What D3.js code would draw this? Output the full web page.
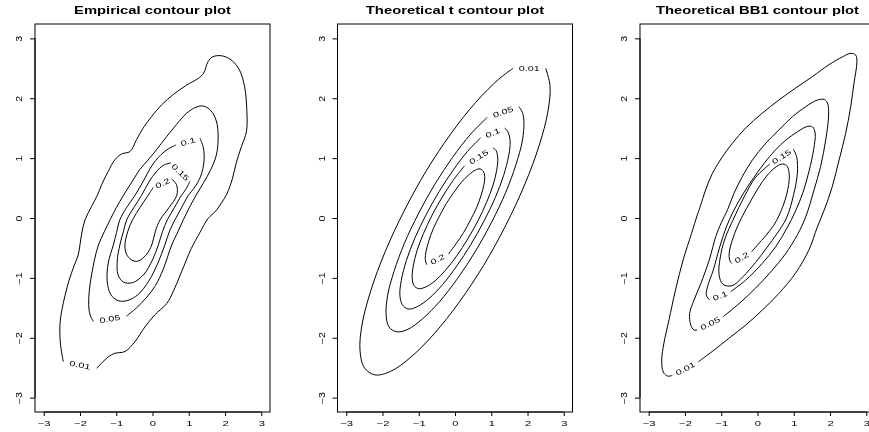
<!DOCTYPE html>
<html>
<head>
<meta charset="utf-8">
<script src="https://cdn.jsdelivr.net/npm/d3@7"></script>
<style>
  body { margin: 0; background: #fff; }
  svg { filter: grayscale(100%); }
  text { font-family: "Liberation Sans", Arial, Helvetica, sans-serif; fill: #000; }
</style>
</head>
<body>
<svg id="chart" width="869" height="432"></svg>
<script>
const titles = ['Empirical contour plot', 'Theoretical t contour plot', 'Theoretical BB1 contour plot'];
const levels = ['0.01', '0.05', '0.1', '0.15', '0.2'];
const xTicks = [-3, -2, -1, 0, 1, 2, 3];
const yTicks = [-3, -2, -1, 0, 1, 2, 3];

// Contour lines, [x, y]. Each runs from one end of its label gap to the other.
// Empirical
const emp001 = [[-1.54,-2.51],[-1.22,-2.32],[-1.04,-2.26],[-0.76,-2.23],[-0.49,-2.07],[-0.21,-1.82],[0.06,-1.62],[0.39,-1.43],[0.57,-1.23],[0.80,-0.90],[1.07,-0.51],[1.30,-0.25],[1.53,-0.01],[1.75,0.12],[1.90,0.25],[2.05,0.40],[2.20,0.65],[2.31,0.92],[2.45,1.19],[2.59,1.44],[2.60,1.81],[2.54,2.19],[2.40,2.47],[2.17,2.64],[1.90,2.71],[1.65,2.69],[1.53,2.61],[1.41,2.42],[1.26,2.33],[0.94,2.22],[0.57,2.06],[0.25,1.89],[-0.03,1.69],[-0.26,1.50],[-0.44,1.31],[-0.62,1.11],[-0.85,1.07],[-1.04,0.97],[-1.22,0.78],[-1.40,0.56],[-1.52,0.38],[-1.70,0.17],[-1.86,-0.03],[-1.95,-0.25],[-2.00,-0.45],[-2.05,-0.62],[-2.17,-0.81],[-2.30,-1.04],[-2.41,-1.29],[-2.50,-1.54],[-2.55,-1.76],[-2.54,-2.09],[-2.46,-2.40]];
const emp005 = [[-0.72,-1.64],[-0.44,-1.50],[-0.17,-1.33],[0.08,-1.13],[0.30,-0.85],[0.53,-0.45],[0.70,-0.23],[0.85,-0.03],[1.02,0.18],[1.20,0.38],[1.40,0.58],[1.60,0.80],[1.76,1.05],[1.81,1.35],[1.76,1.62],[1.60,1.80],[1.40,1.87],[1.20,1.85],[0.94,1.75],[0.66,1.56],[0.39,1.36],[0.11,1.14],[-0.12,0.97],[-0.35,0.81],[-0.55,0.62],[-0.80,0.38],[-1.00,0.17],[-1.17,-0.03],[-1.33,-0.23],[-1.49,-0.45],[-1.60,-0.70],[-1.68,-0.95],[-1.74,-1.20],[-1.76,-1.45],[-1.72,-1.62],[-1.63,-1.73]];
const emp010 = [[1.31,1.33],[1.40,1.18],[1.42,0.95],[1.33,0.70],[1.15,0.50],[0.99,0.38],[0.80,0.17],[0.62,-0.03],[0.47,-0.22],[0.34,-0.45],[0.15,-0.75],[-0.10,-1.05],[-0.40,-1.28],[-0.70,-1.38],[-0.95,-1.38],[-1.15,-1.28],[-1.25,-1.05],[-1.22,-0.75],[-1.08,-0.45],[-0.99,-0.24],[-0.90,-0.03],[-0.72,0.17],[-0.48,0.38],[-0.25,0.62],[-0.02,0.87],[0.22,1.05],[0.45,1.16],[0.65,1.22]];
const emp015 = [[1.03,0.61],[0.92,0.48],[0.80,0.38],[0.60,0.17],[0.41,-0.03],[0.28,-0.22],[0.16,-0.45],[0.00,-0.70],[-0.25,-0.95],[-0.55,-1.08],[-0.80,-1.07],[-0.95,-0.95],[-0.97,-0.70],[-0.90,-0.45],[-0.80,-0.22],[-0.71,-0.03],[-0.52,0.17],[-0.30,0.38],[-0.10,0.60],[0.10,0.77],[0.30,0.88],[0.51,0.92]];
const emp020 = [[0.53,0.65],[0.66,0.56],[0.67,0.38],[0.45,0.17],[0.21,-0.03],[0.08,-0.22],[-0.02,-0.45],[-0.18,-0.62],[-0.40,-0.72],[-0.58,-0.70],[-0.72,-0.60],[-0.76,-0.45],[-0.68,-0.22],[-0.55,-0.03],[-0.35,0.17],[-0.12,0.38],[0.02,0.51]];

// Theoretical t
const t001 = [[2.50,2.50],[2.62,2.21],[2.56,1.77],[2.32,1.21],[1.93,0.57],[1.41,-0.11],[0.79,-0.79],[0.11,-1.41],[-0.57,-1.93],[-1.21,-2.32],[-1.77,-2.56],[-2.21,-2.62],[-2.50,-2.50],[-2.62,-2.21],[-2.56,-1.77],[-2.32,-1.21],[-1.93,-0.57],[-1.41,0.11],[-0.79,0.79],[-0.11,1.41],[0.57,1.93],[1.21,2.32],[1.60,2.50]];
const t005 = [[1.76,1.86],[1.86,1.76],[1.90,1.61],[1.86,1.30],[1.68,0.89],[1.40,0.43],[1.01,-0.07],[0.56,-0.56],[0.07,-1.01],[-0.43,-1.40],[-0.89,-1.68],[-1.30,-1.86],[-1.61,-1.90],[-1.82,-1.82],[-1.90,-1.61],[-1.86,-1.30],[-1.68,-0.89],[-1.40,-0.43],[-1.01,0.07],[-0.56,0.56],[-0.07,1.01],[0.43,1.40],[0.89,1.68]];
const t010 = [[1.37,1.50],[1.45,1.45],[1.52,1.29],[1.48,1.04],[1.34,0.71],[1.11,0.34],[0.80,-0.05],[0.44,-0.44],[0.05,-0.80],[-0.34,-1.11],[-0.71,-1.34],[-1.04,-1.48],[-1.29,-1.52],[-1.45,-1.45],[-1.52,-1.29],[-1.48,-1.04],[-1.34,-0.71],[-1.11,-0.34],[-0.80,0.05],[-0.44,0.44],[-0.05,0.80],[0.34,1.11],[0.71,1.34]];
const t015 = [[1.05,1.17],[1.13,1.13],[1.18,1.00],[1.15,0.80],[1.05,0.55],[0.87,0.26],[0.63,-0.05],[0.35,-0.35],[0.05,-0.63],[-0.26,-0.87],[-0.55,-1.05],[-0.80,-1.15],[-1.00,-1.18],[-1.13,-1.13],[-1.18,-1.00],[-1.15,-0.80],[-1.05,-0.55],[-0.87,-0.26],[-0.63,0.05],[-0.35,0.35],[-0.05,0.63],[0.26,0.87]];
const t020 = [[-0.18,-0.60],[0.03,-0.43],[0.24,-0.24],[0.43,-0.03],[0.60,0.18],[0.72,0.38],[0.80,0.56],[0.82,0.69],[0.78,0.78],[0.69,0.82],[0.56,0.80],[0.38,0.72],[0.18,0.60],[-0.03,0.43],[-0.24,0.24],[-0.43,0.03],[-0.60,-0.18],[-0.72,-0.38],[-0.80,-0.56],[-0.82,-0.69],[-0.78,-0.78]];

// Theoretical BB1
const bb001 = [[-1.63,-2.40],[-1.25,-2.23],[-0.79,-2.01],[-0.33,-1.79],[0.13,-1.54],[0.59,-1.26],[1.05,-0.92],[1.42,-0.53],[1.65,-0.15],[1.85,0.15],[2.06,0.52],[2.25,0.97],[2.43,1.41],[2.57,1.86],[2.66,2.25],[2.74,2.60],[2.71,2.72],[2.57,2.75],[2.34,2.69],[1.97,2.56],[1.51,2.36],[1.05,2.17],[0.59,1.97],[0.13,1.75],[-0.33,1.50],[-0.69,1.25],[-0.97,1.02],[-1.24,0.75],[-1.43,0.47],[-1.58,0.19],[-1.66,0.05],[-1.82,-0.26],[-2.05,-0.70],[-2.26,-1.20],[-2.44,-1.70],[-2.58,-2.09],[-2.64,-2.37],[-2.60,-2.57],[-2.48,-2.64],[-2.35,-2.63]];
const bb005 = [[-0.95,-1.65],[-0.51,-1.43],[-0.05,-1.17],[0.41,-0.87],[0.77,-0.60],[1.10,-0.28],[1.33,0.02],[1.56,0.47],[1.74,0.86],[1.88,1.30],[1.96,1.72],[1.93,1.92],[1.84,1.98],[1.65,1.97],[1.33,1.86],[0.96,1.69],[0.59,1.47],[0.23,1.25],[-0.14,0.97],[-0.42,0.69],[-0.65,0.41],[-0.83,0.13],[-1.00,-0.08],[-1.15,-0.31],[-1.33,-0.70],[-1.56,-1.09],[-1.75,-1.37],[-1.87,-1.59],[-1.84,-1.79],[-1.75,-1.87],[-1.66,-1.87]];
const bb010 = [[-0.74,-1.23],[-0.33,-1.04],[0.13,-0.76],[0.50,-0.48],[0.82,-0.16],[1.05,0.12],[1.25,0.42],[1.42,0.78],[1.55,1.15],[1.59,1.42],[1.52,1.52],[1.38,1.53],[1.10,1.44],[0.78,1.30],[0.50,1.14],[0.18,0.91],[-0.12,0.66],[-0.40,0.40],[-0.65,0.13],[-0.86,-0.15],[-1.05,-0.50],[-1.22,-0.87],[-1.38,-1.15],[-1.41,-1.29],[-1.32,-1.37]];
const bb015 = [[0.99,1.15],[1.08,1.02],[1.10,0.75],[1.00,0.40],[0.80,0.00],[0.55,-0.25],[0.25,-0.50],[-0.05,-0.74],[-0.40,-0.98],[-0.70,-1.13],[-0.95,-1.11],[-1.06,-0.95],[-1.03,-0.67],[-0.90,-0.35],[-0.65,0.00],[-0.37,0.35],[-0.05,0.68],[0.34,0.90]];
const bb020 = [[-0.16,-0.56],[0.22,-0.30],[0.45,-0.12],[0.60,0.05],[0.76,0.30],[0.86,0.56],[0.87,0.76],[0.80,0.88],[0.66,0.90],[0.48,0.84],[0.25,0.70],[0.02,0.50],[-0.20,0.27],[-0.40,0.05],[-0.56,-0.15],[-0.70,-0.38],[-0.78,-0.58],[-0.77,-0.70],[-0.71,-0.76]];

const panels = [
  [emp001, emp005, emp010, emp015, emp020],
  [t001, t005, t010, t015, t020],
  [bb001, bb005, bb010, bb015, bb020],
];

const MARGIN = { LEFT: 35, TOP: 24 };
const PANEL_W = 235;
const PANEL_H = 388;
const PANEL_STEP = 302.5;
const DOMAIN = [-3.24, 3.24];

const svg = d3.select('#chart');

// Text in the picture is stretched along its baseline.
function place(sel, x, y, angle, sx) {
  sel.attr('transform', `translate(${x},${y}) rotate(${angle}) scale(${sx},1)`);
}

panels.forEach((contours, i) => {
  const left = MARGIN.LEFT + i * PANEL_STEP;
  const xScale = d3.scaleLinear().domain(DOMAIN).range([left, left + PANEL_W]);
  const yScale = d3.scaleLinear().domain(DOMAIN).range([MARGIN.TOP + PANEL_H, MARGIN.TOP]);
  const g = svg.append('g').attr('class', 'panel');

  const line = d3.line()
    .x(d => xScale(d[0]))
    .y(d => yScale(d[1]))
    .curve(d3.curveCatmullRom.alpha(0.5));

  contours.forEach((pts, k) => {
    g.append('path')
      .attr('d', line(pts))
      .attr('fill', 'none')
      .attr('stroke', '#000')
      .attr('stroke-width', 1);

    // Label sits in the gap between the two ends of the line.
    const a = pts[0];
    const b = pts[pts.length - 1];
    const ax = xScale(a[0]), ay = yScale(a[1]);
    const bx = xScale(b[0]), by = yScale(b[1]);
    let ang = Math.atan2(by - ay, bx - ax) * 180 / Math.PI;
    if (ang > 90) ang -= 180;
    if (ang < -90) ang += 180;
    g.append('text')
      .attr('text-anchor', 'middle')
      .attr('dy', '0.35em')
      .attr('font-size', 7.5)
      .call(place, (ax + bx) / 2, (ay + by) / 2, ang, 1.45)
      .text(levels[k]);
  });

  // Box
  g.append('rect')
    .attr('x', left)
    .attr('y', MARGIN.TOP)
    .attr('width', PANEL_W)
    .attr('height', PANEL_H)
    .attr('fill', 'none')
    .attr('stroke', '#000')
    .attr('stroke-width', 1);

  // Bottom axis
  const bottom = g.append('g')
    .attr('transform', `translate(0,${MARGIN.TOP + PANEL_H})`)
    .call(d3.axisBottom(xScale).tickValues(xTicks).tickSize(4).tickSizeOuter(0).tickFormat(d3.format('d')));
  bottom.select('.domain')
    .attr('d', `M${xScale(xTicks[0])},0H${xScale(xTicks[xTicks.length - 1])}`);
  bottom.selectAll('text')
    .attr('y', null).attr('dy', null)
    .attr('font-size', 7.5)
    .attr('font-family', null)
    .each(function () { d3.select(this).call(place, 0, 14, 0, 1.5); });

  // Left axis
  const leftAxis = g.append('g')
    .attr('transform', `translate(${left},0)`)
    .call(d3.axisLeft(yScale).tickValues(yTicks).tickSize(5).tickSizeOuter(0).tickFormat(d3.format('d')));
  leftAxis.select('.domain')
    .attr('d', `M0,${yScale(yTicks[0])}V${yScale(yTicks[yTicks.length - 1])}`);
  leftAxis.selectAll('text')
    .attr('x', null).attr('dy', null)
    .attr('text-anchor', 'middle')
    .attr('font-size', 8.5)
    .attr('font-family', null)
    .each(function () { d3.select(this).call(place, -13, 0, -90, 1.25); });

  // Title
  g.append('text')
    .attr('text-anchor', 'middle')
    .attr('font-size', 10)
    .attr('font-weight', 'bold')
    .call(place, left + PANEL_W / 2, 13.6, 0, 1.48)
    .text(titles[i]);
});
</script>
</body>
</html>
